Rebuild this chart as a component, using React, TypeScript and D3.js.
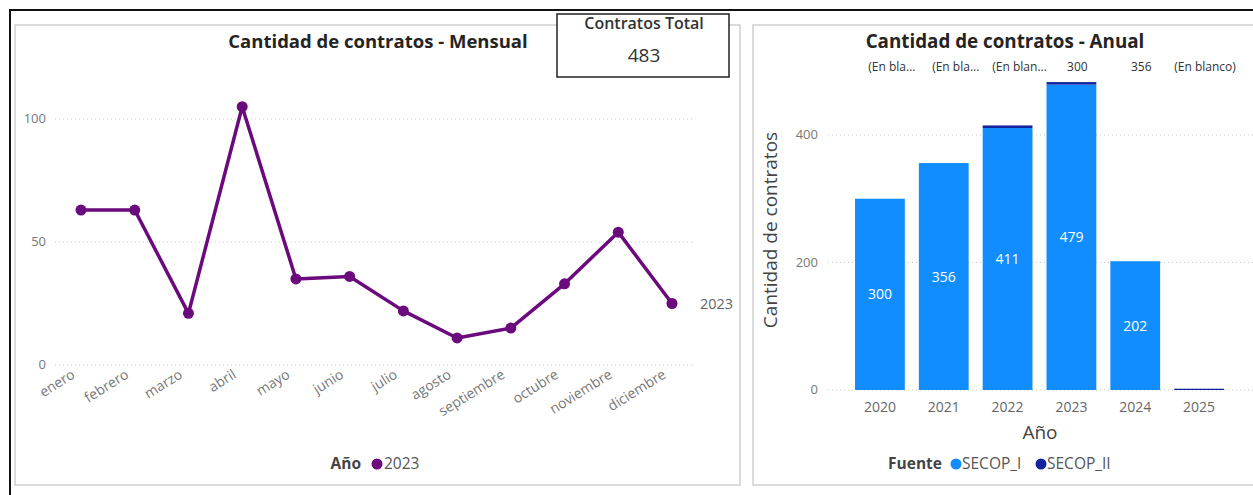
import * as d3 from 'd3'

const MONTHS = ['enero', 'febrero', 'marzo', 'abril', 'mayo', 'junio', 'julio', 'agosto', 'septiembre', 'octubre', 'noviembre', 'diciembre']
const MONTHLY_2023 = [63, 63, 21, 105, 35, 36, 22, 11, 15, 33, 54, 25]
const MONTH_TICKS = [0, 50, 100]

const YEARS = ['2020', '2021', '2022', '2023', '2024', '2025']
const SECOP_I = [300, 356, 411, 479, 202, 0]
const SECOP_II = [0, 0, 4, 4, 0, 2]
const TOP_LABELS = ['(En bla...', '(En bla...', '(En blan...', '300', '356', '(En blanco)']
const YEAR_TICKS = [0, 200, 400]
const TOTAL = 483

const FONT = '"Segoe UI", "Open Sans", "Noto Sans", sans-serif'
const PURPLE = '#6b0a7c'
const BLUE = '#118dff'
const NAVY = '#12239e'
const TICK = '#777'

export default function App() {
  // left: monthly line
  const xM = d3.scalePoint<string>().domain(MONTHS).range([81, 672])
  const yM = d3.scaleLinear().domain([0, 100]).range([365, 119])
  const line = d3.line<number>()
    .x((_, i) => xM(MONTHS[i])!)
    .y((d) => yM(d))

  // right: yearly stacked bars
  const xY = d3.scaleBand<string>().domain(YEARS).range([848, 1231]).paddingInner(0.22).paddingOuter(0.11)
  const yY = d3.scaleLinear().domain([0, 400]).range([390, 135])
  const rows = YEARS.map((y, i) => ({ year: y, SECOP_I: SECOP_I[i], SECOP_II: SECOP_II[i] }))
  const stacked = d3.stack<any>().keys(['SECOP_I', 'SECOP_II'])(rows)
  const colors = [BLUE, NAVY]

  const last = MONTHLY_2023.length - 1

  return (
    <div style={{ position: 'absolute', left: 0, top: 0 }}>
      <svg width={1253} height={495} style={{ display: 'block', fontFamily: FONT }}>
        <rect x={0} y={0} width={1253} height={495} fill="#fff" />
        {/* outer frame */}
        <path d="M10,496 L10,10 L1254,10" fill="none" stroke="#111" strokeWidth={2} />

        {/* left panel */}
        <rect x={15} y={25} width={725} height={460} fill="#fff" stroke="#cfcfcf" strokeWidth={1.5} />
        <text x={378} y={48} textAnchor="middle" fontSize={18.5} fontWeight={700} fill="#252423">
          Cantidad de contratos - Mensual
        </text>
        {MONTH_TICKS.map((t) => (
          <g key={t}>
            <line x1={55} x2={692} y1={yM(t)} y2={yM(t)} stroke="#c8c8c8" strokeDasharray="1,3" />
            <text x={46} y={yM(t) + 4} textAnchor="end" fontSize={13} fill={TICK}>{t}</text>
          </g>
        ))}
        {MONTHS.map((m) => (
          <text key={m} transform={`translate(${xM(m)! - 5},${377}) rotate(-32)`} textAnchor="end" fontSize={14} fill={TICK}>
            {m}
          </text>
        ))}
        <path d={line(MONTHLY_2023)!} fill="none" stroke={PURPLE} strokeWidth={3.5} strokeLinejoin="round" />
        {MONTHLY_2023.map((v, i) => (
          <circle key={i} cx={xM(MONTHS[i])!} cy={yM(v)} r={5.5} fill={PURPLE} />
        ))}
        <text x={700} y={yM(MONTHLY_2023[last]) + 5} fontSize={14.5} fill="#666">2023</text>
        <g fontSize={15.5}>
          <text x={361} y={469} textAnchor="end" fontWeight={700} fill="#444">Año</text>
          <circle cx={377} cy={464} r={5.5} fill={PURPLE} />
          <text x={384} y={469} fill="#555">2023</text>
        </g>

        {/* KPI card */}
        <rect x={557} y={14} width={172} height={63} fill="#fff" stroke="#222" strokeWidth={1.5} />
        <text x={644} y={29} textAnchor="middle" fontSize={16} fontWeight={600} fill="#333">Contratos Total</text>
        <text x={644} y={62} textAnchor="middle" fontSize={19} fill="#333">{TOTAL}</text>

        {/* right panel */}
        <rect x={753} y={25} width={520} height={460} fill="#fff" stroke="#cfcfcf" strokeWidth={1.5} />
        <text x={1005} y={48} textAnchor="middle" fontSize={18.8} fontWeight={700} fill="#252423">
          Cantidad de contratos - Anual
        </text>
        {YEAR_TICKS.map((t) => (
          <g key={t}>
            <line x1={828} x2={1253} y1={yY(t)} y2={yY(t)} stroke="#c8c8c8" strokeDasharray="1,3" />
            <text x={818} y={yY(t) + 4} textAnchor="end" fontSize={13} fill={TICK}>{t}</text>
          </g>
        ))}
        {stacked.map((s, si) => (
          <g key={s.key} fill={colors[si]}>
            {s.map((d, i) => {
              const h = yY(d[0]) - yY(d[1])
              if (h <= 0) return null
              return <rect key={i} x={xY(YEARS[i])!} y={yY(d[1])} width={xY.bandwidth()} height={h} />
            })}
          </g>
        ))}
        {SECOP_I.map((v, i) =>
          v > 0 ? (
            <text key={i} x={xY(YEARS[i])! + xY.bandwidth() / 2} y={(yY(0) + yY(v)) / 2 + 5} textAnchor="middle" fontSize={14} fill="#fff">
              {v}
            </text>
          ) : null,
        )}
        {TOP_LABELS.map((l, i) => (
          <text key={i} x={xY(YEARS[i])! + xY.bandwidth() / 2 + (i < 3 ? 12 : 6)} y={71} textAnchor="middle" fontSize={12} fill="#333">
            {l}
          </text>
        ))}
        {YEARS.map((y) => (
          <text key={y} x={xY(y)! + xY.bandwidth() / 2} y={412} textAnchor="middle" fontSize={14} fill="#666">{y}</text>
        ))}
        <text x={1040} y={439} textAnchor="middle" fontSize={19} fill="#444">Año</text>
        <text transform={`translate(${777},${230}) rotate(-90)`} textAnchor="middle" fontSize={19} fill="#444">
          Cantidad de contratos
        </text>
        <g fontSize={15.5}>
          <text x={942} y={469} textAnchor="end" fontWeight={700} fill="#444">Fuente</text>
          <circle cx={956} cy={464} r={5.5} fill={BLUE} />
          <text x={962} y={469} fill="#555">SECOP_I</text>
          <circle cx={1041} cy={464} r={5.5} fill={NAVY} />
          <text x={1047} y={469} fill="#555">SECOP_II</text>
        </g>
      </svg>
    </div>
  )
}
